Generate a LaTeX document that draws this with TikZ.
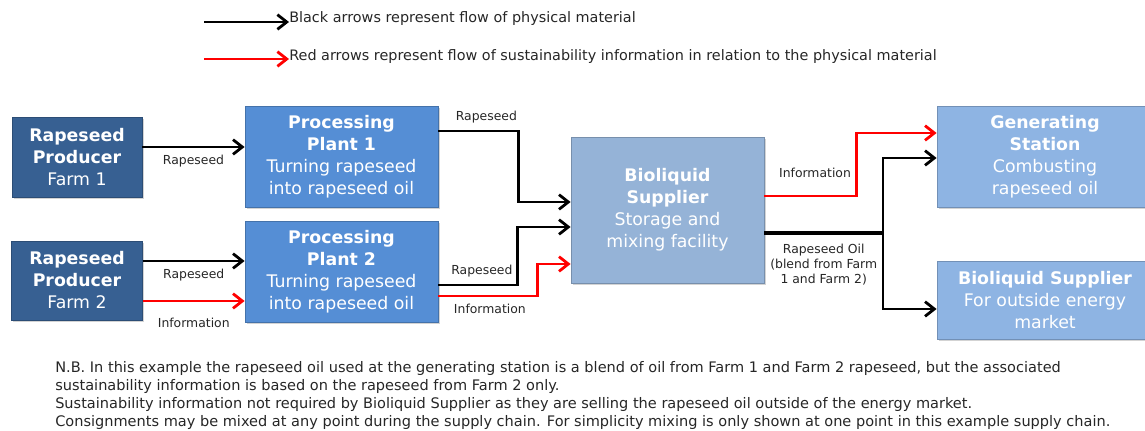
\documentclass[tikz,border=0pt]{standalone}
\usepackage{fontspec}
\setmainfont{DejaVu Sans}
\usepackage{tikz}
\usetikzlibrary{arrows.meta,calc,positioning,shadows}
\usepackage{xcolor}
\definecolor{farmblue}{HTML}{376092}
\definecolor{plantblue}{HTML}{558ED5}
\definecolor{supblue}{HTML}{95B3D7}
\definecolor{endblue}{HTML}{8EB4E3}
\definecolor{infored}{HTML}{FF0000}

\begin{document}
\begin{tikzpicture}[x=0.75pt,y=-0.75pt,
  box/.style={draw=#1!80!black,fill=#1,line width=0.6pt,text=white,align=center,
    font=\fontsize{13}{16.5}\selectfont,inner sep=0pt,
    drop shadow={shadow xshift=1.2pt,shadow yshift=-1.2pt,opacity=0.35}},
  mat/.style={draw=black,line width=2.1pt,-{Straight Barb[length=7pt,width=11pt,line width=2.1pt]}},
  info/.style={mat,draw=infored},
  lbl/.style={font=\fontsize{9.3}{11}\selectfont,text=black!85,inner sep=1pt},
  legtext/.style={anchor=west,font=\fontsize{10.8}{13}\selectfont,text=black!85,inner sep=0pt}]
\useasboundingbox (0,0) rectangle (1145,431);

% legend
\node[legtext] (legmat) at (289,19) {Black arrows represent flow of physical material};
\node[legtext] (leginfo) at (289,57) {Red arrows represent flow of sustainability information in relation to the physical material};
\coordinate (legmatstart) at (204,22);
\coordinate (leginfostart) at (204,59);
\draw[mat,line width=1.8pt] (legmatstart) -- (legmatstart -| legmat.west);
\draw[info,line width=1.8pt] (leginfostart) -- (leginfostart -| leginfo.west);

% boxes
\node[box=farmblue,minimum width=130pt*0.75,minimum height=80pt*0.75] (farmA) at (77,157) {\textbf{Rapeseed}\\\textbf{Producer}\\Farm 1};
\node[box=farmblue,minimum width=131pt*0.75,minimum height=79pt*0.75] (farmB) at (77,280.5) {\textbf{Rapeseed}\\\textbf{Producer}\\Farm 2};
\node[box=plantblue,minimum width=193pt*0.75,minimum height=101pt*0.75] (plantA) at (341.5,156.5) {\textbf{Processing}\\\textbf{Plant 1}\\Turning rapeseed\\into rapeseed oil};
\node[box=plantblue,minimum width=193pt*0.75,minimum height=101pt*0.75] (plantB) at (341.5,271.5) {\textbf{Processing}\\\textbf{Plant 2}\\Turning rapeseed\\into rapeseed oil};
\node[box=supblue,minimum width=193pt*0.75,minimum height=146pt*0.75] (supplier) at (667.5,210) {\textbf{Bioliquid}\\\textbf{Supplier}\\Storage and\\mixing facility};
\node[box=endblue,minimum width=216pt*0.75,minimum height=101pt*0.75] (station) at (1045,156.5) {\textbf{Generating}\\\textbf{Station}\\Combusting\\rapeseed oil};
\node[box=endblue,minimum width=216pt*0.75,minimum height=78pt*0.75] (market) at (1045,300) {\textbf{Bioliquid Supplier}\\For outside energy\\market};

% farms to plants
\draw[mat] (farmA.east |- 0,147) -- (plantA.west |- 0,147) node[lbl,midway,below=4pt]{Rapeseed};
\draw[mat] (farmB.east |- 0,261) -- (plantB.west |- 0,261) node[lbl,midway,below=4pt]{Rapeseed};
\draw[info] (farmB.east |- 0,301) -- (plantB.west |- 0,301) node[lbl,midway,below=11pt]{Information};

% plants to supplier
\draw[mat] (plantA.east |- 0,131) -- ++(80,0) node[lbl,pos=0.6,above=4pt]{Rapeseed} |- (supplier.west |- 0,202);
\draw[mat] (plantB.east |- 0,285) -- ++(79,0) node[lbl,pos=0.55,above=4pt]{Rapeseed} |- (supplier.west |- 0,227);
\draw[info] (plantB.east |- 0,296) -- ++(99,0) node[lbl,pos=0.52,below=4pt]{Information} |- (supplier.west |- 0,264);

% supplier onwards
\draw[info] (supplier.east |- 0,196) -- ++(92,0) node[lbl,pos=0.55,above=12pt]{Information} |- (station.west |- 0,133);
\coordinate (split) at (883,233);
\draw[line width=3pt] (supplier.east |- split) -- (split) node[lbl,pos=0.5,below=6pt,align=center]{Rapeseed Oil\\(blend from Farm\\1 and Farm 2)};
\draw[mat] (split) |- (station.west |- 0,158);
\draw[mat] (split) |- (market.west |- 0,309);

% notes
\node[anchor=north west,align=left,inner sep=0pt,text=black!85,font=\fontsize{10.9}{13.5}\selectfont] (notes) at (55,361) {N.B. In this example the rapeseed oil used at the generating station is a blend of oil from Farm 1 and Farm 2 rapeseed, but the associated\\sustainability information is based on the rapeseed from Farm 2 only.\\Sustainability information not required by Bioliquid Supplier as they are selling the rapeseed oil outside of the energy market.\\Consignments may be mixed at any point during the supply chain. For simplicity mixing is only shown at one point in this example supply chain.};
\end{tikzpicture}
\end{document}
